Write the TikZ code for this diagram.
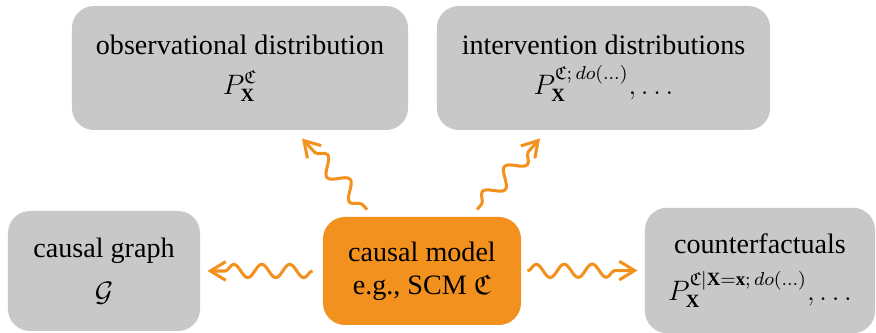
\documentclass[tikz,border=0pt]{standalone}
\usepackage{amsmath,amssymb}
\usepackage{fontspec}
\setmainfont{Liberation Serif}
\usetikzlibrary{calc,decorations.pathmorphing,arrows.meta}
\definecolor{cmorange}{RGB}{243,145,30}
\definecolor{cmgray}{RGB}{200,200,200}

\begin{document}
\begin{tikzpicture}[x=.015cm,y=.015cm,
  box/.style={fill=cmgray,rounded corners=.33cm,align=center,font=\large,inner sep=0pt},
  wave/.style={cmorange,line width=1.3pt,-{Straight Barb[length=2.3mm,width=2.8mm]},
    decorate,decoration={snake,segment length=.42cm,amplitude=.1cm,post length=2mm}},
  bigwave/.style={wave,decoration={snake,segment length=.5cm,amplitude=.12cm,pre length=1mm,post length=2mm}}]
\useasboundingbox (0,0) rectangle (876,333);
% the model in the middle
\node[box,fill=cmorange,minimum width=2.97cm,minimum height=1.62cm] (model) at (422,62) {causal model\\e.g., SCM $\mathfrak{C}$};
% what it entails
\node[box,minimum width=5.04cm,minimum height=1.86cm] (obs) at (240,265) {observational distribution\\[3pt]$P_{\mathbf{X}}^{\mathfrak{C}}$};
\node[box,minimum width=5cm,minimum height=1.86cm] (intv) at (603.5,265) {intervention distributions\\[3pt]$P_{\mathbf{X}}^{\mathfrak{C};\,do(\ldots)},\ldots$};
\node[box,minimum width=2.88cm,minimum height=1.8cm] (graph) at (104,62) {causal graph\\[5pt]$\mathcal{G}$};
\node[box,minimum width=3.45cm,minimum height=1.88cm] (cf) at (760,62.5) {counterfactuals\\[6pt]$P_{\mathbf{X}}^{\mathfrak{C}|\mathbf{X}=\mathbf{x};\,do(\ldots)},\ldots$};
% wavy arrows
\draw[bigwave] ($(model.north)+(-55,7)$) -- ($(obs.south)+(62,-8)$);
\draw[bigwave] ($(model.north)+(55,7)$) -- ($(intv.south)+(-63.5,-8)$);
\draw[wave] ($(model.west)+(-10,0)$) -- ($(graph.east)+(7,0)$);
\draw[wave] ($(model.east)+(6,0)$) -- ($(cf.west)+(-7,0)$);
\end{tikzpicture}
\end{document}
